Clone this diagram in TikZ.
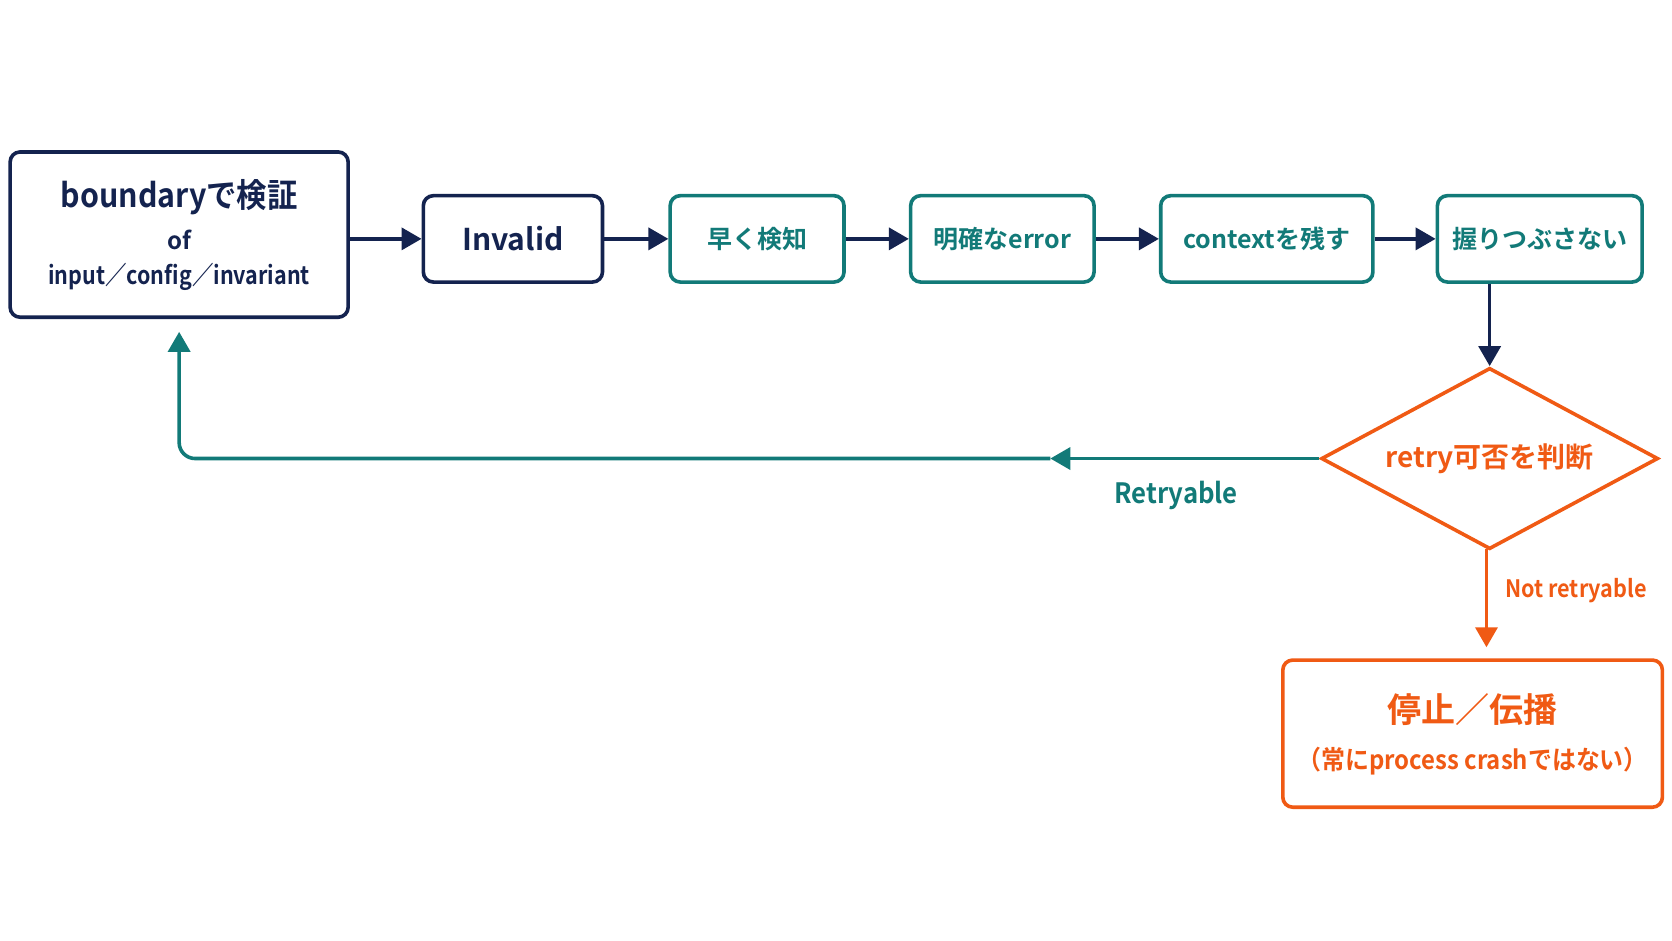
\documentclass[tikz,border=0pt]{standalone}
\usepackage{fontspec}
\setmainfont{Noto Sans CJK JP}[BoldFont={* Bold}]
\usetikzlibrary{shapes.geometric,arrows.meta}
\definecolor{navy}{HTML}{14234F}
\definecolor{teal}{HTML}{127A78}
\definecolor{orng}{HTML}{F05A14}
\begin{document}
\begin{tikzpicture}[x=0.5333pt,y=-0.5333pt,font=\bfseries,
  box/.style={draw,line width=1.8pt,rounded corners=5pt,inner sep=0pt,align=center},
  nb/.style={box,draw=navy,text=navy},
  tb/.style={box,draw=teal,text=teal,font=\bfseries\fontsize{12.5}{14}\selectfont},
  arr/.style={line width=1.8pt,-{Triangle[length=10pt,width=11pt]}}]
\useasboundingbox[fill=white] (0,0) rectangle (1568,882);
\node[nb,minimum width=317*0.5333pt,minimum height=155*0.5333pt] (b) at (168,220) {};
\node[navy,font=\bfseries\fontsize{16.5}{18}\selectfont] (b1) at (168,185) {\addfontfeatures{FakeStretch=0.92}boundaryで検証};
\node[navy,font=\bfseries\fontsize{12}{14}\selectfont] (b2) at (168,225) {of};
\node[navy,font=\bfseries\fontsize{12.5}{14}\selectfont] (b3) at (168,260) {\addfontfeatures{FakeStretch=0.86}input／config／invariant};
\node[nb,minimum width=168*0.5333pt,minimum height=81*0.5333pt,font=\bfseries\fontsize{15}{17}\selectfont] (i) at (481,224) {Invalid};
\node[tb,minimum width=163*0.5333pt,minimum height=81*0.5333pt] (h) at (710,224) {早く検知};
\node[tb,minimum width=172*0.5333pt,minimum height=81*0.5333pt] (m) at (940,224) {明確なerror};
\node[tb,minimum width=199*0.5333pt,minimum height=81*0.5333pt] (c) at (1188,224) {contextを残す};
\node[tb,minimum width=192*0.5333pt,minimum height=81*0.5333pt] (n) at (1444,224) {握りつぶさない};
\node[diamond,draw=orng,line width=1.8pt,text=orng,shape aspect=1.86,minimum width=316*0.5333pt,minimum height=170*0.5333pt,inner sep=0pt,font=\bfseries\fontsize{14}{16}\selectfont] (d) at (1397,430) {retry可否を判断};
\node[box,draw=orng,minimum width=356*0.5333pt,minimum height=138*0.5333pt] (s) at (1381,688) {};
\node[orng,font=\bfseries\fontsize{17}{19}\selectfont] (s1) at (1381,665) {停止／伝播};
\node[orng,font=\bfseries\fontsize{13}{15}\selectfont] (s2) at (1381,714) {\addfontfeatures{FakeStretch=0.92}（常にprocess crashではない）};
\draw[arr,navy] (b.east|-i) -- (i);
\draw[arr,navy] (i) -- (h);
\draw[arr,navy] (h) -- (m);
\draw[arr,navy] (m) -- (c);
\draw[arr,navy] (c) -- (n);
\draw[arr,navy] (n.south-|d.north) -- (d.north);
\coordinate (mid) at (985,430);
\coordinate (crn) at (168,430);
\coordinate (dsb) at (1394,515);
\coordinate (sn) at (1394,607);
\draw[arr,teal] (d.west) -- (mid);
\draw[arr,teal,rounded corners=8pt] (mid) -- (crn) -- ([yshift=-12*0.5333pt]b.south);
\draw[arr,orng] (dsb) -- (sn);
\node[teal,font=\bfseries\fontsize{14}{16}\selectfont] (rl) at (1103,465) {\addfontfeatures{FakeStretch=0.92}Retryable};
\node[orng,font=\bfseries\fontsize{12}{14}\selectfont] (nl) at (1478,554) {\addfontfeatures{FakeStretch=0.9}Not retryable};
\end{tikzpicture}
\end{document}
